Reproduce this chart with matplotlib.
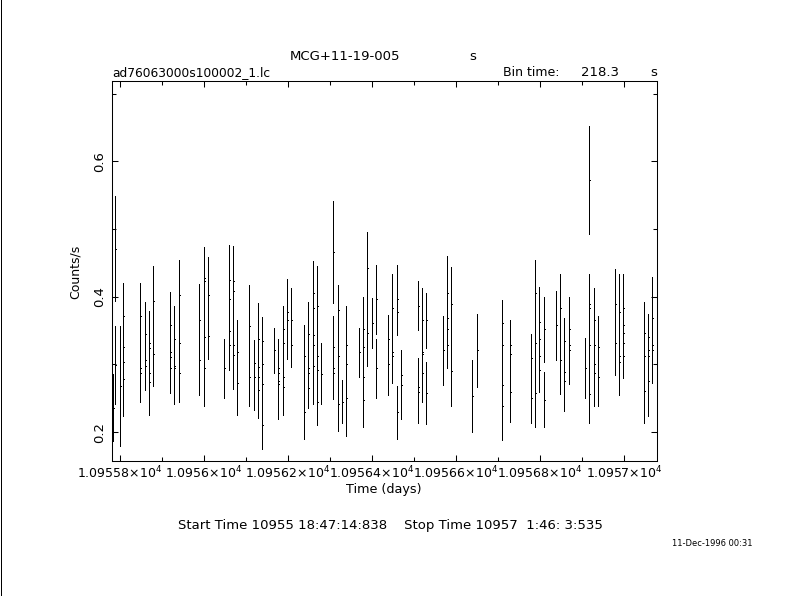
import matplotlib
matplotlib.use('Agg')
import matplotlib.pyplot as plt
from matplotlib.ticker import MultipleLocator, FuncFormatter
from matplotlib.lines import Line2D

# ---------------- data ----------------
bin_time_s = 218.3
t_days = (
    [10955.783] + [10955.7895]*2 + [10955.800] + [10955.8086]*4 + [10955.849]*3 +
    [10955.8595]*3 + [10955.869]*4 + [10955.879]*2 + [10955.920]*4 + [10955.9286]*3 +
    [10955.9405]*3 + [10955.9895]*2 + [10956.000]*4 + [10956.0095]*2 + [10956.049] +
    [10956.0595]*4 + [10956.0705]*4 + [10956.080]*2 + [10956.1086]*2 + [10956.1198]*2 +
    [10956.1293]*4 + [10956.1388]*4 + [10956.168] + [10956.1776]*4 + [10956.1895]*4 +
    [10956.199]*2 + [10956.2086]*2 + [10956.2388]*2 + [10956.249]*4 + [10956.2595]*5 +
    [10956.269]*4 + [10956.280] + [10956.3086]*4 + [10956.319]*3 + [10956.330] +
    [10956.3395]*3 + [10956.3705] + [10956.380]*4 + [10956.3895]*2 + [10956.4014] +
    [10956.4110]*2 + [10956.4395]*2 + [10956.449]*3 + [10956.4605]*3 + [10956.4705]*2 +
    [10956.5095]*3 + [10956.519]*4 + [10956.530]*2 + [10956.5698] + [10956.579]*4 +
    [10956.5895]*2 + [10956.6395] + [10956.650] + [10956.711]*4 + [10956.730]*3 +
    [10956.780]*2 + [10956.7895]*3 + [10956.799]*4 + [10956.8095]*2 + [10956.8395] +
    [10956.849]*2 + [10956.858]*3 + [10956.869]*3 + [10956.9086] + [10956.918]*5 +
    [10956.929]*4 + [10956.939]*2 + [10956.9786]*2 + [10956.9895]*3 + [10956.999]*5 +
    [10957.0483]*3 + [10957.0586]*4 + [10957.068]*3
)
rate = [
    0.236, 0.471, 0.299, 0.268, 0.371, 0.325, 0.303, 0.279, 0.371, 0.294, 0.287,
    0.345, 0.306, 0.297, 0.332, 0.324, 0.288, 0.274, 0.393, 0.315, 0.358, 0.319, 0.311, 0.294,
    0.338, 0.297, 0.294, 0.403, 0.331, 0.287, 0.365, 0.306, 0.428, 0.423, 0.340, 0.295,
    0.402, 0.342, 0.294, 0.425, 0.397, 0.349, 0.328, 0.423, 0.409, 0.329, 0.314,
    0.319, 0.273, 0.357, 0.281, 0.302, 0.281, 0.337, 0.296, 0.281, 0.262,
    0.334, 0.300, 0.271, 0.210, 0.321, 0.294, 0.287, 0.275, 0.271, 0.352, 0.332, 0.281, 0.267,
    0.377, 0.365, 0.365, 0.329, 0.313, 0.229, 0.345, 0.294, 0.287, 0.265,
    0.405, 0.384, 0.344, 0.329, 0.297, 0.386, 0.313, 0.291, 0.245, 0.286,
    0.466, 0.325, 0.294, 0.287, 0.380, 0.313, 0.242, 0.245, 0.328, 0.300, 0.250, 0.318,
    0.352, 0.325, 0.281, 0.248, 0.442, 0.347, 0.361, 0.396, 0.294, 0.337, 0.300,
    0.384, 0.319, 0.313, 0.396, 0.378, 0.229, 0.285, 0.270, 0.387, 0.267, 0.259,
    0.365, 0.319, 0.316, 0.287, 0.365, 0.258, 0.321, 0.405, 0.369, 0.352, 0.329,
    0.390, 0.290, 0.253, 0.321, 0.361, 0.329, 0.270, 0.239, 0.329, 0.315, 0.259,
    0.309, 0.250, 0.405, 0.331, 0.257, 0.362, 0.338, 0.313, 0.291, 0.352, 0.248, 0.358,
    0.383, 0.306, 0.334, 0.289, 0.275, 0.352, 0.328, 0.322, 0.295,
    0.573, 0.390, 0.384, 0.329, 0.256, 0.365, 0.329, 0.301, 0.287, 0.325, 0.281,
    0.390, 0.332, 0.378, 0.313, 0.304, 0.384, 0.358, 0.346, 0.332, 0.313,
    0.346, 0.313, 0.260, 0.341, 0.322, 0.313, 0.276, 0.369, 0.328, 0.322,
]
rate_err = [
    0.050, 0.078, 0.058, 0.089, 0.049, 0.050, 0.050, 0.055, 0.049, 0.050, 0.043,
    0.047, 0.040, 0.035, 0.047, 0.045, 0.045, 0.049, 0.052, 0.047, 0.049, 0.045, 0.045, 0.036,
    0.048, 0.045, 0.052, 0.051, 0.050, 0.043, 0.054, 0.051, 0.046, 0.046, 0.045, 0.056,
    0.057, 0.034, 0.044, 0.052, 0.050, 0.045, 0.036, 0.052, 0.050, 0.050, 0.050,
    0.046, 0.048, 0.060, 0.043, 0.034, 0.048, 0.054, 0.045, 0.045, 0.042,
    0.036, 0.045, 0.045, 0.035, 0.033, 0.043, 0.045, 0.045, 0.052, 0.034, 0.045, 0.045, 0.042,
    0.049, 0.057, 0.048, 0.033, 0.045, 0.039, 0.047, 0.045, 0.045, 0.030,
    0.048, 0.050, 0.045, 0.045, 0.055, 0.060, 0.045, 0.045, 0.034, 0.045,
    0.075, 0.046, 0.045, 0.037, 0.037, 0.045, 0.040, 0.032, 0.058, 0.045, 0.056, 0.036,
    0.048, 0.045, 0.045, 0.040, 0.054, 0.049, 0.037, 0.051, 0.044, 0.036, 0.045,
    0.049, 0.045, 0.040, 0.051, 0.034, 0.039, 0.036, 0.051, 0.036, 0.043, 0.045,
    0.048, 0.045, 0.045, 0.043, 0.041, 0.046, 0.051, 0.055, 0.045, 0.045, 0.034,
    0.054, 0.051, 0.053, 0.054, 0.034, 0.045, 0.045, 0.051, 0.036, 0.045, 0.044,
    0.036, 0.037, 0.050, 0.050, 0.050, 0.053, 0.045, 0.045, 0.032, 0.048, 0.041, 0.051,
    0.051, 0.050, 0.035, 0.045, 0.044, 0.048, 0.045, 0.051, 0.044,
    0.080, 0.043, 0.045, 0.045, 0.042, 0.048, 0.045, 0.045, 0.048, 0.046, 0.043,
    0.051, 0.047, 0.055, 0.045, 0.049, 0.049, 0.045, 0.045, 0.045, 0.033,
    0.046, 0.045, 0.046, 0.034, 0.045, 0.045, 0.052, 0.060, 0.045, 0.049,
]

title_src = "MCG+11-19-005"
file_name = "ad76063000s100002_1.lc"
start_stop = "Start Time 10955 18:47:14:838    Stop Time 10957  1:46: 3:535"
stamp = "11-Dec-1996 00:31"

# ---------------- figure ----------------
plt.rcParams['font.family'] = ['DejaVu Sans']
plt.rcParams['mathtext.fontset'] = 'dejavusans'

W, H = 789, 596
fig = plt.figure(figsize=(W / 100, H / 100), dpi=100)
fig.patch.set_facecolor('white')

L, R, T, B = 111.7, 657.0, 81.0, 460.7
ax = fig.add_axes([L / W, 1 - B / H, (R - L) / W, (B - T) / H])

half_bin = 0.5 * bin_time_s / 86400.0
lo = [r - e for r, e in zip(rate, rate_err)]
hi = [r + e for r, e in zip(rate, rate_err)]
ax.vlines(t_days, lo, hi, colors='black', linewidths=0.72, antialiased=False)
ax.hlines(rate, [t for t in t_days], [t + 2 * half_bin for t in t_days],
          colors='black', linewidths=0.72, antialiased=False)

ax.set_xlim(10955.781, 10957.079)
ax.set_ylim(0.1576, 0.719)

ax.xaxis.set_major_locator(MultipleLocator(0.2))
ax.xaxis.set_minor_locator(MultipleLocator(0.1))
ax.yaxis.set_major_locator(MultipleLocator(0.2))
ax.yaxis.set_minor_locator(MultipleLocator(0.1))


def xfmt(v, pos):
    return "%g\u00d710$^{4}$" % round(v / 1e4, 6)


ax.xaxis.set_major_formatter(FuncFormatter(xfmt))
ax.yaxis.set_major_formatter(FuncFormatter(lambda v, p: "%g" % round(v, 3)))

for s in ax.spines.values():
    s.set_linewidth(0.75)
ax.tick_params(which='both', direction='in', top=True, right=True, width=0.75,
               colors='black')
ax.tick_params(axis='x', labelsize=9)
ax.tick_params(axis='y', labelsize=9.5)
ax.tick_params(which='major', length=4.5)
ax.tick_params(which='minor', length=2.6)
ax.tick_params(axis='x', which='major', pad=3)
ax.tick_params(axis='y', which='major', pad=4, labelrotation=90)
for lab in ax.get_yticklabels():
    lab.set_va('center')

fs = 9.5
fig.text(345 / W, 1 - 56 / H, title_src, ha='center', va='center', fontsize=fs)
fig.text(472.5 / W, 1 - 56 / H, "s", ha='center', va='center', fontsize=fs)
fig.text(112 / W, 1 - 72.5 / H, file_name, ha='left', va='center', fontsize=8.8)
fig.text(503 / W, 1 - 72.5 / H, "Bin time:", ha='left', va='center', fontsize=9)
fig.text(619 / W, 1 - 72.5 / H, "%.1f" % bin_time_s, ha='right', va='center', fontsize=fs)
fig.text(657 / W, 1 - 72.5 / H, "s", ha='right', va='center', fontsize=fs)

fig.text(75 / W, 1 - 272 / H, "Counts/s", rotation=90, ha='center', va='center', fontsize=9)
fig.text(384 / W, 1 - 490 / H, "Time (days)", ha='center', va='center', fontsize=9.2)
fig.text(390 / W, 1 - 525 / H, start_stop, ha='center', va='center', fontsize=fs)
fig.text(752 / W, 1 - 544 / H, stamp, ha='right', va='center', fontsize=6)

fig.add_artist(Line2D([1.0 / W, 1.0 / W], [0, 1], transform=fig.transFigure,
                      color='black', linewidth=0.72, antialiased=False))

fig.savefig('out.png', dpi=100)
